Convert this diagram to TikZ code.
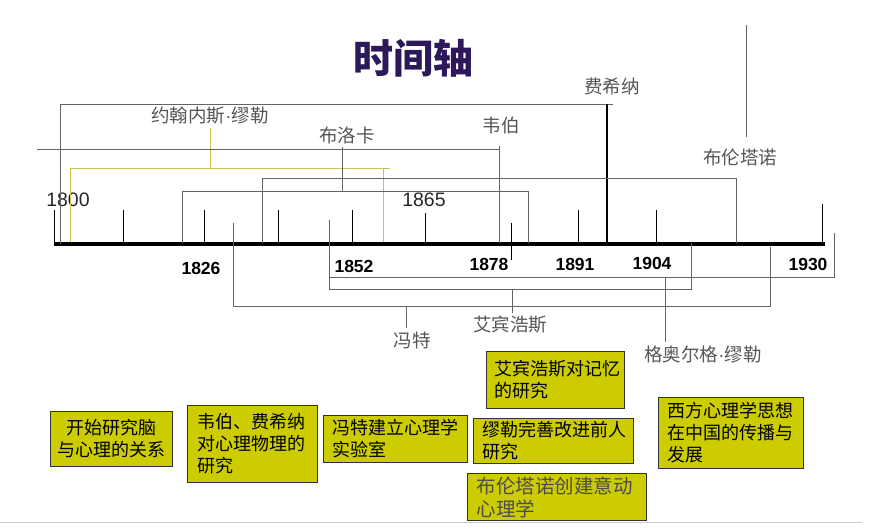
\documentclass[tikz,border=0pt]{standalone}
\usepackage{fontspec}
\newfontfamily\cjk{Noto Sans CJK SC}
\newfontfamily\numfont{Liberation Sans}
\usetikzlibrary{calc, positioning}
\definecolor{titlepurple}{RGB}{45,25,90}
\definecolor{labelgray}{RGB}{85,85,85}
\definecolor{linegray}{RGB}{100,100,100}
\definecolor{lineyellow}{RGB}{200,195,80}
\definecolor{boxyellow}{RGB}{204,204,0}
\tikzset{
    person/.style={font=\cjk\fontsize{18.5}{20}\selectfont, text=labelgray, inner sep=0pt, outer sep=3pt},
    yearlbl/.style={font=\numfont\bfseries\fontsize{17.5}{20}\selectfont, inner sep=0pt},
    yeartop/.style={font=\numfont\fontsize{19.5}{22}\selectfont, text=black!85, inner sep=0pt},
    event/.style={draw=black!80, line width=1pt, fill=boxyellow, anchor=north west, align=left, inner xsep=9pt, inner ysep=3pt, font=\cjk\fontsize{18}{22}\selectfont},
    bracket/.style={draw=linegray, line width=0.9pt},
    yellowline/.style={draw=lineyellow, line width=0.9pt},
    tickline/.style={draw=black, line width=1pt},
    axisline/.style={draw=black, line width=4.5pt},
}
\newcommand{\drawBracket}[4][bracket]{
    % 两端竖线 + 横线
    \draw[#1] (#2) -- (#2 |- 0,#4) -- (#3 |- 0,#4) -- (#3);
}
\newcommand{\middot}{{\numfont\textperiodcentered}}
\begin{document}
\begin{tikzpicture}[x=1pt, y=-1pt]
    \useasboundingbox (0,0) rectangle (871,531);

    \node[font=\cjk\bfseries\fontsize{40}{44}\selectfont, text=titlepurple, inner sep=0pt] (title) at (413,58) {时间轴};

    % 时间轴
    \coordinate (axL) at (54,244);
    \coordinate (axR) at (825,244);
    \foreach \x/\t in {54/210, 123/210, 204/210, 278/210, 352/210, 425/213, 578/210, 656/210, 822/204}
        \draw[tickline] (\x,\t) -- (\x,244);
    \draw[tickline] (511,223) -- (511,260);
    \draw[axisline] (axL) -- (axR);

    \node[yeartop] (y1800) at (68,200) {1800};
    \node[yeartop] (y1865) at (424,200) {1865};
    \node[yearlbl] (y1826) at (201,268) {1826};
    \node[yearlbl] (y1852) at (354,266) {1852};
    \node[yearlbl] (y1878) at (489,264) {1878};
    \node[yearlbl] (y1891) at (575,264) {1891};
    \node[yearlbl] (y1904) at (652,263) {1904};
    \node[yearlbl] (y1930) at (808,264) {1930};

    % 人物
    \node[person] (fechner) at (612,86) {费希纳};
    \node[person] (jmueller) at (210,116) {约翰内斯\middot 缪勒};
    \node[person] (weber) at (501,125) {韦伯};
    \node[person] (broca) at (347,135) {布洛卡};
    \node[person] (brentano) at (740,157) {布伦塔诺};
    \node[person] (wundt) at (412,340) {冯特};
    \node[person] (ebbing) at (510,325) {艾宾浩斯};
    \node[person] (gmueller) at (703,354) {格奥尔格\middot 缪勒};

    \coordinate (fcL) at (60,244);
    \coordinate (fcR) at (607,244);
    \coordinate (fcE) at (613,104);
    \draw[bracket] (fcL) |- (fcE);
    \draw[tickline, line width=1.4pt] (fcR) -- (fcR |- fcE);

    \coordinate (jmL) at (70,242);
    \coordinate (jmR) at (383,242);
    \coordinate (jmE) at (390,168);
    \draw[yellowline] (jmL) |- (jmE);
    \draw[yellowline] (jmR) -- (jmR |- jmE);
    \draw[yellowline] (jmueller.south) -- (jmueller.south |- jmE);

    \coordinate (wbS) at (37,149);
    \coordinate (wbR) at (499,243);
    \draw[bracket] (wbS) -- (wbS -| wbR);
    \draw[bracket] (wbR) -- (wbR |- 0,146);

    \coordinate (brL) at (182,243);
    \coordinate (brR) at (528,243);
    \coordinate (brJ) at (342,191);
    \drawBracket{brL}{brR}{191}
    \draw[bracket] (brJ) -- (brJ |- broca.south);

    \coordinate (btL) at (262,243);
    \coordinate (btR) at (736,243);
    \coordinate (btT) at (746,25);
    \drawBracket{btL}{btR}{178}
    \draw[bracket] (btT) -- (btT |- 0,137);

    \coordinate (wdL) at (233,223);
    \coordinate (wdR) at (770,247);
    \coordinate (wdJ) at (406,306);
    \drawBracket{wdL}{wdR}{306}
    \draw[bracket] (wdJ) -- (wdJ |- wundt.north);

    \coordinate (ebL) at (329,220);
    \coordinate (ebR) at (691,243);
    \coordinate (ebJ) at (512,289);
    \drawBracket{ebL}{ebR}{289}
    \draw[bracket] (ebJ) -- (ebJ |- ebbing.north);

    \coordinate (gmL) at (329,277);
    \coordinate (gmR) at (834,233);
    \coordinate (gmJ) at (665,277);
    \draw[bracket] (gmL) -- (gmL -| gmR) -- (gmR);
    \draw[bracket] (gmJ) -- (gmJ |- gmueller.north);

    % 事件
    \node[event, align=center, inner xsep=6pt, text width=110pt, minimum width=122pt, minimum height=55pt] (evBrain) at (50,411) {开始研究脑\\与心理的关系};
    \node[event, inner xsep=10pt, text width=110pt, minimum width=130pt, minimum height=77pt] (evPsychophys) at (187,405) {韦伯、费希纳\\对心理物理的\\研究};
    \node[event, text width=126pt, minimum width=144pt, minimum height=47pt] (evLab) at (323,415) {冯特建立心理学\\实验室};
    \node[event, inner xsep=8pt, text width=122pt, minimum width=138pt, minimum height=57pt] (evMemory) at (486,351) {艾宾浩斯对记忆\\的研究};
    \node[event, text width=142pt, minimum width=160pt, minimum height=45pt] (evMueller) at (473,418) {缪勒完善改进前人\\研究};
    \node[event, text=black!70, font=\cjk\fontsize{19.5}{23}\selectfont, text width=161pt, minimum width=179pt, minimum height=47pt] (evAct) at (467,473) {布伦塔诺创建意动\\心理学};
    \node[event, text width=127pt, minimum width=145pt, minimum height=71pt] (evChina) at (658,397) {西方心理学思想\\在中国的传播与\\发展};

    \coordinate (baseL) at (0,522);
    \coordinate (baseR) at (862,522);
    \draw[gray!40, line width=1pt] (baseL) -- (baseR);

\end{tikzpicture}
\end{document}
